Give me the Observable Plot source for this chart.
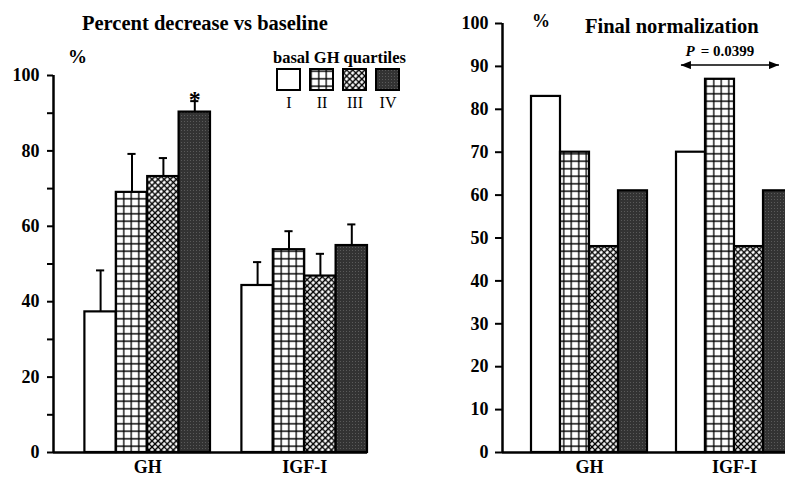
<!DOCTYPE html>
<html><head><meta charset="utf-8">
<script src="https://cdn.jsdelivr.net/npm/d3@7"></script>
<script src="https://cdn.jsdelivr.net/npm/@observablehq/plot@0.6"></script>
<style>
body{margin:0;background:#fff;}
#wrap{position:relative;width:785px;height:478px;overflow:hidden;font-family:"Liberation Serif","Times New Roman",serif;background:#fff;}
#wrap > svg{position:absolute;top:0;}
#wrap text{font-family:"Liberation Serif","Times New Roman",serif;}
</style></head><body><div id="wrap"></div>
<script>
// ---- data ----
const groups = ["GH", "IGF-I"];
const quartiles = ["I", "II", "III", "IV"];
const legendTitle = "basal GH quartiles";

// Left panel: percent decrease vs baseline (mean and upper SEM)
const decreaseGH = [37.3, 69.0, 73.2, 90.3];
const decreaseGHErr = [11.0, 10.2, 4.9, 2.9];
const decreaseIGF = [44.3, 53.8, 46.8, 54.9];
const decreaseIGFErr = [6.2, 4.9, 5.9, 5.6];
const decreaseGHSig = ["", "", "", "*"];
const decreaseIGFSig = ["", "", "", ""];
const leftTicks = [0, 10, 20, 30, 40, 50, 60, 70, 80, 90, 100];
const leftTickLabels = [0, 20, 40, 60, 80, 100];

// Right panel: final normalization (%)
const normGH = [83, 70, 48, 61];
const normIGF = [70, 87, 48, 61];
const rightTicks = [0, 10, 20, 30, 40, 50, 60, 70, 80, 90, 100];
const pValueText = ["P", "= 0.0399"];
const pValueLevel = 90.3;

const leftTitle = "Percent decrease vs baseline";
const rightTitle = "Final normalization";
const unitLabel = "%";

// ---- styles ----
const fills = ["white", "url(#pat-grid)", "url(#pat-cross)", "url(#pat-dark)"];
const wrap = d3.select("#wrap");

// pattern defs (not display:none so that url() references resolve)
const defs = wrap.append("svg").attr("width", 0).attr("height", 0).style("position", "absolute").append("defs");
const pg = defs.append("pattern").attr("id", "pat-grid").attr("patternUnits", "userSpaceOnUse").attr("width", 7.5).attr("height", 7.5);
pg.append("rect").attr("width", 7.5).attr("height", 7.5).attr("fill", "white");
pg.append("path").attr("d", "M3.75 0V7.5M0 3.75H7.5").attr("stroke", "black").attr("stroke-width", 1.3);
const pc = defs.append("pattern").attr("id", "pat-cross").attr("patternUnits", "userSpaceOnUse").attr("width", 4.3).attr("height", 4.3).attr("patternTransform", "rotate(45)");
pc.append("rect").attr("width", 4.3).attr("height", 4.3).attr("fill", "white");
pc.append("path").attr("d", "M2.15 0V4.3M0 2.15H4.3").attr("stroke", "black").attr("stroke-width", 1.5);
const pd = defs.append("pattern").attr("id", "pat-dark").attr("patternUnits", "userSpaceOnUse").attr("width", 3).attr("height", 3);
pd.append("rect").attr("width", 3).attr("height", 3).attr("fill", "#333");
pd.append("rect").attr("x", 1).attr("y", 1).attr("width", 1).attr("height", 1).attr("fill", "#5a5a5a");
const mk = defs.append("marker").attr("id", "arrowhead").attr("viewBox", "0 0 10 8").attr("refX", 10).attr("refY", 4)
  .attr("markerWidth", 10).attr("markerHeight", 8).attr("markerUnits", "userSpaceOnUse").attr("orient", "auto-start-reverse");
mk.append("path").attr("d", "M0,0L10,4L0,8Z").attr("fill", "black");

// ---- build tables ----
function table(seriesByGroup, errByGroup, sigByGroup) {
  const rows = [];
  groups.forEach((g, gi) => quartiles.forEach((q, qi) => {
    const x1 = 1 + gi * (quartiles.length + 1) + qi;
    const v = seriesByGroup[gi][qi];
    const e = errByGroup ? errByGroup[gi][qi] : 0;
    rows.push({group: g, q, x1, x2: x1 + 1, xc: x1 + 0.5, value: v, top: v + e, sig: sigByGroup ? sigByGroup[gi][qi] : ""});
  }));
  return rows;
}
const leftData = table([decreaseGH, decreaseIGF], [decreaseGHErr, decreaseIGFErr], [decreaseGHSig, decreaseIGFSig]);
const rightData = table([normGH, normIGF]);
const xMax = groups.length * (quartiles.length + 1);
const groupCenters = groups.map((g, gi) => 1 + gi * (quartiles.length + 1) + quartiles.length / 2);
const groupLabel = d => groups[groupCenters.indexOf(d)];

const colorScale = {type: "ordinal", domain: quartiles, range: fills};
const baseStyle = {fontFamily: "Liberation Serif, Times New Roman, serif", fontWeight: "bold", fontSize: "18px", color: "black", background: "transparent", overflow: "visible"};

// ---- left panel ----
const left = Plot.plot({
  width: 400, height: 478,
  marginLeft: 53, marginRight: 33, marginTop: 75, marginBottom: 26,
  x: {domain: [0, xMax], axis: null},
  y: {domain: [0, 100], axis: null},
  color: colorScale,
  style: baseStyle,
  marks: [
    Plot.ruleX(leftData, {x: "xc", y1: "value", y2: "top", strokeWidth: 2}),
    Plot.ruleY(leftData, {y: "top", x1: d => d.xc - 0.13, x2: d => d.xc + 0.13, strokeWidth: 2}),
    Plot.rectY(leftData, {x1: "x1", x2: "x2", y1: 0, y2: "value", fill: "q", stroke: "black", strokeWidth: 2.2}),
    Plot.text(leftData.filter(d => d.sig), {x: "xc", y: "top", text: "sig", lineAnchor: "bottom", dy: 6, fontSize: 24}),
    Plot.axisY({ticks: leftTicks, tickFormat: d => leftTickLabels.includes(d) ? d : "", tickSize: 6, tickPadding: 8, strokeWidth: 2, label: null}),
    Plot.axisX({ticks: groupCenters, tickFormat: groupLabel, tickSize: 0, tickPadding: 8, label: null}),
    Plot.ruleX([0], {y1: 0, y2: 100, strokeWidth: 2.5}),
    Plot.ruleY([0], {x1: 0, x2: xMax, strokeWidth: 2.5})
  ]
});
left.style.left = "0px";
wrap.node().appendChild(left);

// ---- right panel ----
const right = Plot.plot({
  width: 352, height: 478,
  marginLeft: 62, marginRight: 0, marginTop: 23, marginBottom: 26,
  x: {domain: [0, xMax], axis: null},
  y: {domain: [0, 100], axis: null},
  color: colorScale,
  style: baseStyle,
  marks: [
    Plot.rectY(rightData, {x1: "x1", x2: "x2", y1: 0, y2: "value", fill: "q", stroke: "black", strokeWidth: 2.2}),
    Plot.ruleY([pValueLevel], {x1: groupCenters[1] - 1.83, x2: groupCenters[1] + 1.55, strokeWidth: 1.5}),
    Plot.text([pValueText.join(" ")], {x: groupCenters[1] - 1.69, y: pValueLevel + 3.3, text: d => d, textAnchor: "start", lineAnchor: "middle", fontSize: 15}),
    Plot.axisY({ticks: rightTicks, tickSize: 7, tickPadding: 7, strokeWidth: 2, label: null}),
    Plot.axisX({ticks: groupCenters, tickFormat: groupLabel, tickSize: 0, tickPadding: 8, label: null}),
    Plot.ruleX([0], {y1: 0, y2: 100, strokeWidth: 2.5}),
    Plot.ruleY([0], {x1: 0, x2: xMax, strokeWidth: 2.5})
  ]
});
right.style.left = "440px";
wrap.node().appendChild(right);

// arrowheads on the P-value bracket: the horizontal rule line lying over the IGF-I group near the top
const yTop = 100;
d3.select(right).selectAll('g[aria-label="rule"] line').each(function () {
  const el = d3.select(this);
  const y1 = +el.attr("y1"), y2 = +el.attr("y2"), x1 = +el.attr("x1"), x2 = +el.attr("x2");
  if (Math.abs(y1 - y2) < 0.01 && y1 < yTop && x1 > 150 && Math.abs(x2 - x1) > 20) {
    el.attr("marker-start", "url(#arrowhead)").attr("marker-end", "url(#arrowhead)");
  }
});
// italic P
d3.select(right).selectAll("text").filter(function () { return this.textContent === pValueText.join(" "); }).each(function () {
  const pt = d3.select(this);
  pt.text(null);
  pt.append("tspan").attr("font-style", "italic").text(pValueText[0]);
  pt.append("tspan").attr("dx", 6).text(pValueText[1]);
});

// ---- titles, unit labels and legend ----
const ov = wrap.append("svg").attr("width", 785).attr("height", 478).style("left", "0px")
  .style("font-weight", "bold").style("pointer-events", "none");
ov.append("text").attr("x", 82).attr("y", 30).attr("font-size", 20.5).text(leftTitle);
ov.append("text").attr("x", 585).attr("y", 33).attr("font-size", 20.5).text(rightTitle);
ov.append("text").attr("x", 68).attr("y", 63).attr("font-size", 19).text(unitLabel);
ov.append("text").attr("x", 532).attr("y", 27).attr("font-size", 18).text(unitLabel);

const lg = ov.append("g");
lg.append("text").attr("x", 273).attr("y", 63).attr("font-size", 16.5).text(legendTitle);
quartiles.forEach((q, i) => {
  const x0 = 277 + i * 33;
  lg.append("rect").attr("x", x0).attr("y", 69).attr("width", 23).attr("height", 21)
    .attr("fill", fills[i]).attr("stroke", "black").attr("stroke-width", 2);
  lg.append("text").attr("x", x0 + 12).attr("y", 108).attr("font-size", 16).attr("font-weight", "normal")
    .attr("text-anchor", "middle").text(q);
});
</script></body></html>
